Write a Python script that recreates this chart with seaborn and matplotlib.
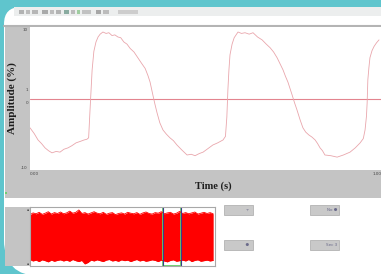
#~~~~~~~~~~~~~~~~~~~~~~~~~~~~~~~~~~~~~~~~~~~~~~~~~~~~~~~~~~~~~~~~~~~~~~~~~~~~~
# plot.py ----
# Purpose of Script: recreate the amplitude viewer screenshot
#~~~~~~~~~~~~~~~~~~~~~~~~~~~~~~~~~~~~~~~~~~~~~~~~~~~~~~~~~~~~~~~~~~~~~~~~~~~~~
import numpy as np
import pandas as pd
import seaborn as sns
import matplotlib.pyplot as plt
from matplotlib.patches import Rectangle, FancyBboxPatch

#~~~~~~~~~~~~~~~~~~~~~~~~~~
# Data
#~~~~~~~~~~~~~~~~~~~~~~~~~~
# Main trace - time (s) and amplitude (%)
time_s = [0.000, 0.012, 0.023, 0.033, 0.043, 0.053, 0.063, 0.075, 0.086, 0.097,
          0.109, 0.120, 0.132, 0.144, 0.155, 0.163, 0.168, 0.172, 0.178, 0.183,
          0.189, 0.195, 0.201, 0.209, 0.218, 0.226, 0.235, 0.243, 0.252, 0.260,
          0.269, 0.278, 0.287, 0.298, 0.309, 0.320, 0.330, 0.338, 0.344, 0.352,
          0.358, 0.364, 0.372, 0.381, 0.391, 0.401, 0.411, 0.421, 0.435, 0.450,
          0.462, 0.473, 0.485, 0.496, 0.510, 0.524, 0.538, 0.553, 0.560, 0.564,
          0.567, 0.570, 0.573, 0.579, 0.585, 0.596, 0.606, 0.616, 0.628, 0.639,
          0.652, 0.665, 0.677, 0.688, 0.698, 0.708, 0.717, 0.725, 0.732, 0.739,
          0.751, 0.758, 0.765, 0.774, 0.782, 0.790, 0.799, 0.808, 0.817, 0.824,
          0.831, 0.838, 0.845, 0.862, 0.880, 0.898, 0.917, 0.932, 0.946, 0.955,
          0.960, 0.964, 0.966, 0.968, 0.971, 0.974, 0.980, 0.986, 0.993, 1.000]
amplitude = [-4.1, -4.9, -5.8, -6.3, -6.9, -7.3, -7.6, -7.4, -7.5, -7.1,
             -6.9, -6.6, -6.2, -6.0, -5.8, -5.7, -5.5, -1.6, 4.0, 6.6,
             7.9, 8.6, 9.0, 9.3, 9.1, 9.2, 8.8, 8.9, 8.6, 8.5,
             7.9, 7.6, 7.0, 6.5, 5.7, 4.9, 4.2, 3.2, 2.3, 0.5,
             -0.8, -2.0, -3.4, -4.4, -5.0, -5.5, -5.9, -6.5, -7.2, -7.9,
             -7.8, -8.0, -7.7, -7.5, -7.0, -6.5, -6.2, -5.8, -5.3, -2.6,
             1.2, 4.0, 6.1, 7.6, 8.5, 9.3, 9.1, 9.2, 9.0, 9.2,
             8.6, 8.2, 7.6, 7.1, 6.5, 5.7, 4.8, 4.0, 3.1, 2.3,
             0.5, -0.6, -1.6, -3.0, -4.1, -4.7, -5.1, -5.4, -5.8, -6.3,
             -6.9, -7.3, -7.9, -8.0, -8.2, -7.9, -7.5, -6.9, -6.2, -5.6,
             -4.4, -2.5, -0.6, 2.6, 4.3, 5.7, 6.7, 7.3, 7.8, 8.2]

# Overview trace - envelope of the whole recording (s, normalised)
overview_t = list(range(61))
overview_hi = [0.74, 0.80, 0.77, 0.82, 0.75, 0.79, 0.84, 0.76, 0.81, 0.78,
               0.83, 0.77, 0.80, 0.86, 0.79, 0.82, 0.90, 0.78, 0.81, 0.76,
               0.80, 0.84, 0.79, 0.77, 0.82, 0.75, 0.79, 0.81, 0.74, 0.78,
               0.80, 0.76, 0.82, 0.79, 0.77, 0.81, 0.75, 0.80, 0.83, 0.78,
               0.76, 0.81, 0.79, 0.84, 0.77, 0.80, 0.82, 0.76, 0.79, 0.85,
               0.78, 0.81, 0.77, 0.80, 0.83, 0.76, 0.79, 0.82, 0.78, 0.81,
               0.77]
overview_lo = [-0.78, -0.83, -0.80, -0.85, -0.79, -0.82, -0.86, -0.80, -0.84, -0.81,
               -0.79, -0.83, -0.80, -0.84, -0.78, -0.82, -0.85, -0.81, -0.93, -0.88,
               -0.80, -0.83, -0.79, -0.82, -0.85, -0.80, -0.78, -0.83, -0.81, -0.84,
               -0.79, -0.82, -0.80, -0.85, -0.81, -0.78, -0.83, -0.80, -0.84, -0.82,
               -0.79, -0.81, -0.85, -0.80, -0.83, -0.86, -0.81, -0.79, -0.84, -0.82,
               -0.80, -0.83, -0.78, -0.85, -0.81, -0.79, -0.84, -0.82, -0.80, -0.83,
               -0.81]

# Selected window in the overview (s)
window_start = 43.6
window_end = 49.3

# Tick labels
y_ticks = [9.7, 1.2, -0.6, -9.6]
y_tick_labels = ["10", "1", "0", "-10"]
x_ticks = [0.012, 0.995]
x_tick_labels = ["0.00", "1.00"]

#~~~~~~~~~~~~~~~~~~~~~~~~~~
# Figure
#~~~~~~~~~~~~~~~~~~~~~~~~~~
sns.set_theme(style="white")
plt.rcParams["font.family"] = ["Liberation Serif", "DejaVu Serif"]

W, H = 381, 274
teal = "#5fc5cd"
panel_gray = "#c4c4c4"

fig = plt.figure(figsize=(W / 100, H / 100), dpi=100)
fig.patch.set_facecolor(teal)


def box(x0, y0, x1, y1):
    # pixel box (top-left origin) -> figure fraction
    return [x0 / W, 1 - y1 / H, (x1 - x0) / W, (y1 - y0) / H]


# Background / window chrome
bg = fig.add_axes([0, 0, 1, 1])
bg.set_xlim(0, W)
bg.set_ylim(H, 0)
bg.axis("off")
bg.add_patch(FancyBboxPatch((4, 7), 600, 200, boxstyle="round,pad=0,rounding_size=17",
                            fc="white", ec="none"))
bg.add_patch(FancyBboxPatch((4, 100), 600, 176, boxstyle="round,pad=0,rounding_size=36",
                            fc="white", ec="none"))

# toolbar
bg.add_patch(Rectangle((14, 7), 370, 9, fc="#eceeee", ec="none"))
for x0, w, c in [(19, 5, "#9a9a9a"), (26, 4, "#a8a8a8"), (32, 6, "#9f9f9f"),
                 (42, 6, "#8d8d8d"), (50, 4, "#a8a8a8"), (56, 5, "#9a9a9a"),
                 (64, 5, "#5f8f7f"), (71, 4, "#a8a8a8"), (77, 3, "#7fc07f"),
                 (82, 9, "#b0b0b0"), (96, 5, "#8a8a8a"), (103, 6, "#a8a8a8"),
                 (118, 20, "#c0c0c0")]:
    bg.add_patch(Rectangle((x0, 9.5), w, 4, fc=c, ec="none", alpha=0.7))
bg.plot([4, W], [25.5, 25.5], color="#b4b4b4", lw=1.5)

# gray frames
bg.add_patch(Rectangle((5, 26), 25, 172, fc=panel_gray, ec="none"))
bg.add_patch(Rectangle((5, 170), W, 28, fc=panel_gray, ec="none"))
bg.add_patch(Rectangle((5, 207), 25, 59, fc=panel_gray, ec="none"))
bg.add_patch(Rectangle((5, 192), 2, 2, fc="#6fcf6f", ec="none"))

# axis titles
bg.text(12, 98, "Amplitude (%)", rotation=90, ha="center", va="center",
        fontsize=8, fontweight="bold", color="#1e1e1e")
bg.text(213, 186, "Time (s)", ha="center", va="center",
        fontsize=7.5, fontweight="bold", color="#1e1e1e")

# buttons
buttons = [(224, 205, "  ▿"), (310, 205, "No ●"), (224, 240, "  ●"), (310, 240, "Sec 3")]
for bx, by, label in buttons:
    bg.add_patch(Rectangle((bx, by), 29, 10, fc="#c9c9c9", ec="#b3b3b3", lw=0.6))
    bg.text(bx + 22, by + 5, label, ha="center", va="center", fontsize=3,
            color="#6a6a8a", family=["DejaVu Sans"])

#~~~~~~~~~~~~~~~~~~~~~~~~~~
# Main trace
#~~~~~~~~~~~~~~~~~~~~~~~~~~
df = pd.DataFrame({"time": time_s, "amplitude": amplitude})

ax = fig.add_axes(box(30, 27, 381, 170))
ax.set_facecolor("white")
ax.axhline(0, color="#e3848f", lw=0.8)
sns.lineplot(data=df, x="time", y="amplitude", ax=ax, color="#e9a6ac",
             lw=0.6, estimator=None, sort=False)
ax.set_xlim(0, 1.0057)
ax.set_ylim(-10, 10)
for s in ax.spines.values():
    s.set_visible(False)
ax.set_xlabel("")
ax.set_ylabel("")
ax.set_yticks(y_ticks)
ax.set_yticklabels(y_tick_labels, fontsize=3, color="#444444", family=["DejaVu Sans"])
ax.set_xticks(x_ticks)
ax.set_xticklabels(x_tick_labels, fontsize=3, color="#444444", family=["DejaVu Sans"])
ax.tick_params(axis="both", length=0, pad=1.5)

#~~~~~~~~~~~~~~~~~~~~~~~~~~
# Overview trace
#~~~~~~~~~~~~~~~~~~~~~~~~~~
df_ov = pd.DataFrame({"t": overview_t, "hi": overview_hi, "lo": overview_lo})

ax2 = fig.add_axes(box(30, 207, 215, 266))
ax2.set_facecolor("white")
ax2.fill_between(df_ov["t"], df_ov["lo"], df_ov["hi"], color="#ff0000", lw=0)
sns.lineplot(data=df_ov, x="t", y="hi", ax=ax2, color="#ff0000", lw=0.6)
sns.lineplot(data=df_ov, x="t", y="lo", ax=ax2, color="#ff0000", lw=0.6)
ax2.axvspan(window_start, window_end, ymin=0, ymax=1, fc="none", ec="#66d166", lw=1.3)
ax2.axvline(window_start, color="#3b3b8f", lw=0.8)
ax2.axvline(window_end, color="#3b3b8f", lw=0.8)
ax2.set_xlim(0, 60.6)
ax2.set_ylim(-1, 1)
for s in ax2.spines.values():
    s.set_color("#a8a8a8")
    s.set_linewidth(0.8)
ax2.set_xlabel("")
ax2.set_ylabel("")
ax2.set_xticks([])
ax2.set_yticks([0.9, -0.9])
ax2.set_yticklabels(["▪", "▪"], fontsize=2.5, color="#555555", family=["DejaVu Sans"])
ax2.tick_params(axis="y", length=0, pad=1)

plt.savefig("out.png", dpi=100, facecolor=fig.get_facecolor())
